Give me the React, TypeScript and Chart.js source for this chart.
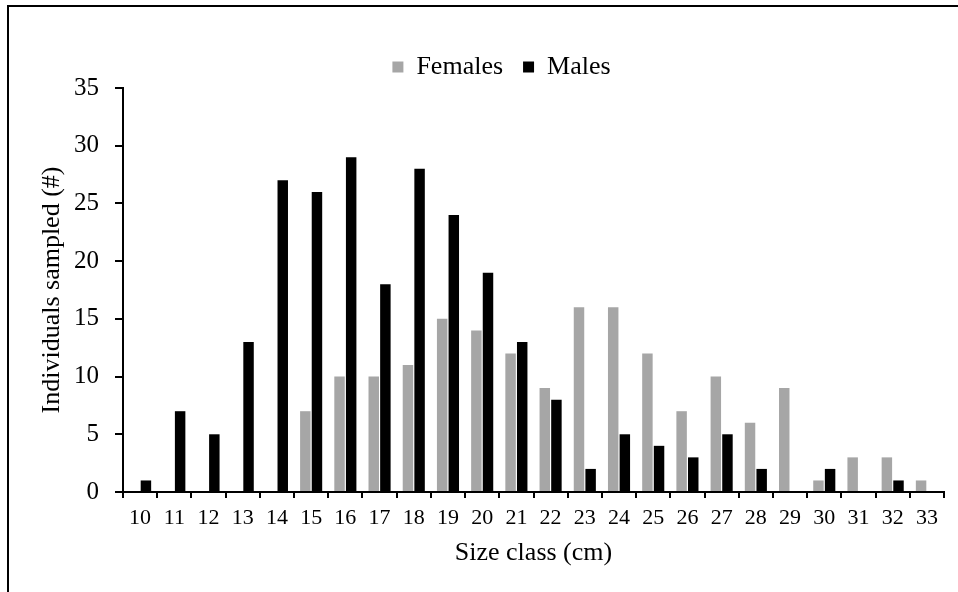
import React, { useEffect, useRef } from "react";
import { Chart, registerables } from "chart.js";

Chart.register(...registerables);

const sizeClasses = ["10","11","12","13","14","15","16","17","18","19","20","21","22","23","24","25","26","27","28","29","30","31","32","33"];
const females = [0,0,0,0,0,7,10,10,11,15,14,12,9,16,16,12,7,10,6,9,1,3,3,1];
const males = [1,7,5,13,27,26,29,18,28,24,19,13,8,2,5,4,3,5,2,0,2,0,1,0];
const seriesNames = ["Females", "Males"];
const yTitle = "Individuals sampled (#)";
const xTitle = "Size class (cm)";

const FONT = "'Liberation Serif', 'Times New Roman', serif";

const shiftLegend = {
  id: "shiftLegend",
  afterLayout(chart: any) {
    const l = chart.legend;
    if (!l) return;
    l.left += 13;
    l.right += 13;
    l.top += 2;
    l.bottom += 2;
  },
};

export default function App() {
  const ref = useRef<HTMLCanvasElement | null>(null);
  useEffect(() => {
    if (!ref.current) return;
    const chart = new Chart(ref.current, {
      type: "bar",
      data: {
        labels: sizeClasses,
        datasets: [
          { label: seriesNames[0], data: females, backgroundColor: "#a6a6a6", borderWidth: 0 },
          { label: seriesNames[1], data: males, backgroundColor: "#000000", borderWidth: 0 },
        ],
      },
      plugins: [shiftLegend],
      options: {
        animation: false,
        responsive: true,
        maintainAspectRatio: false,
        layout: { padding: { left: 33, right: 14, top: 32, bottom: 19 } },
        datasets: { bar: { categoryPercentage: 0.68, barPercentage: 0.9 } },
        plugins: {
          tooltip: { enabled: false },
          legend: {
            position: "top",
            labels: {
              color: "#000",
              font: { family: FONT, size: 26 },
              boxWidth: 11,
              boxHeight: 11,
              padding: 20,
            },
          },
        },
        scales: {
          x: {
            afterFit: (s: any) => { s.height = 81; },
            grid: {
              display: true,
              drawOnChartArea: false,
              drawTicks: true,
              tickLength: 6,
              color: "#000",
              lineWidth: 2,
              offset: true,
            },
            border: { display: true, color: "#000", width: 2 },
            ticks: { color: "#000", font: { family: FONT, size: 22 }, padding: 7, maxRotation: 0, autoSkip: false },
            title: { display: true, text: xTitle, color: "#000", font: { family: FONT, size: 26 }, padding: { top: 4, bottom: 4 } },
          },
          y: {
            min: 0,
            max: 35,
            afterFit: (s: any) => { s.width = 90; },
            grid: {
              display: true,
              drawOnChartArea: false,
              drawTicks: true,
              tickLength: 8,
              color: "#000",
              lineWidth: 2,
            },
            border: { display: true, color: "#000", width: 2 },
            ticks: { stepSize: 5, color: "#000", font: { family: FONT, size: 25 }, padding: 16 },
            title: { display: true, text: yTitle, color: "#000", font: { family: FONT, size: 26 }, padding: { top: 4, bottom: 4 } },
          },
        },
      },
    });
    return () => chart.destroy();
  }, []);

  return (
    <>
      <div
        style={{
          position: "fixed",
          left: 7,
          top: 5,
          width: 951,
          height: 587,
          borderLeft: "2px solid #000",
          borderTop: "2px solid #000",
          boxSizing: "border-box",
        }}
      />
      <div style={{ position: "fixed", left: 0, top: 0, width: 958, height: 592 }}>
        <canvas ref={ref} />
      </div>
    </>
  );
}
